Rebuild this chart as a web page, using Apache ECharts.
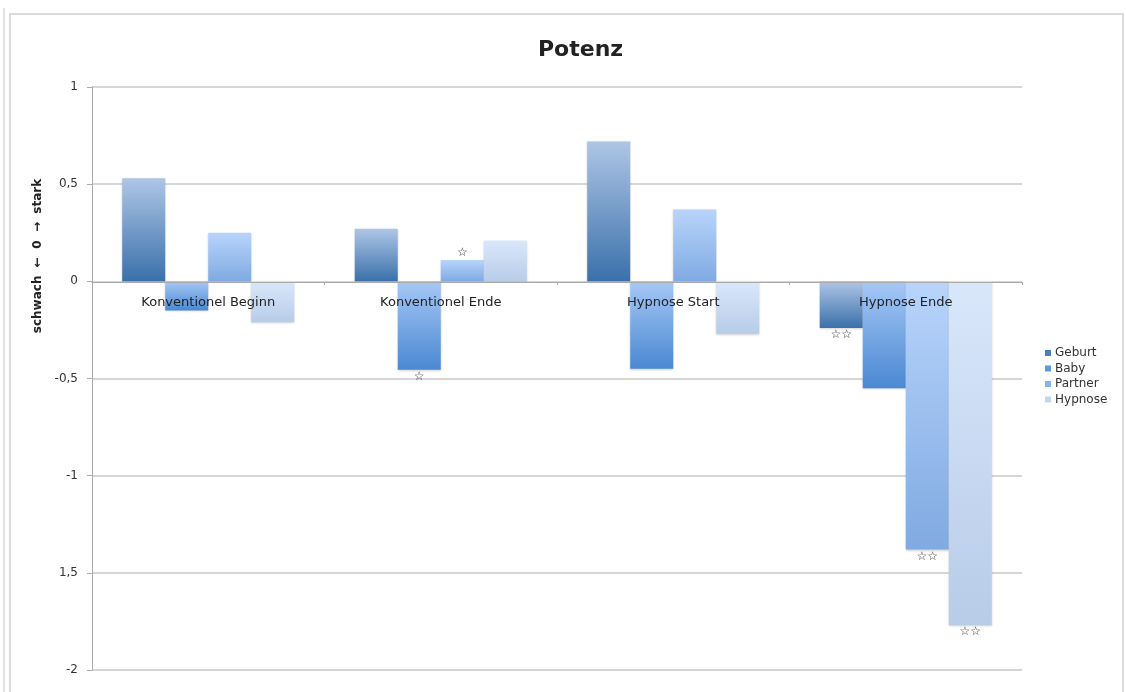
<!DOCTYPE html>
<html>
<head>
<meta charset="utf-8">
<script src="https://cdn.jsdelivr.net/npm/echarts@6/dist/echarts.min.js"></script>
<style>
  html, body { margin: 0; padding: 0; background: #fff; }
  #chart { width: 1126px; height: 692px; }
</style>
</head>
<body>
<div id="chart"></div>
<script>
// Categories, series and tick labels
const categories = ['Konventionel Beginn', 'Konventionel Ende', 'Hypnose Start', 'Hypnose Ende'];
const seriesNames = ['Geburt', 'Baby', 'Partner', 'Hypnose'];
const geburt  = [0.53, 0.27, 0.72, -0.24];
const baby    = [-0.15, -0.455, -0.45, -0.55];
const partner = [0.25, 0.11, 0.37, -1.38];
const hypnose = [-0.21, 0.21, -0.27, -1.77];
// Significance marks per series (empty = none)
const geburtMarks  = ['', '', '', '☆☆'];
const babyMarks    = ['', '☆', '', ''];
const partnerMarks = ['', '☆', '', '☆☆'];
const hypnoseMarks = ['', '', '', '☆☆'];
const yTickLabels = { '1': '1', '0.5': '0,5', '0': '0', '-0.5': '-0,5', '-1': '-1', '-1.5': '1,5', '-2': '-2' };

const values = [geburt, baby, partner, hypnose];
const marks = [geburtMarks, babyMarks, partnerMarks, hypnoseMarks];
const gradients = [
  ['#aec6e6', '#3a70aa'],
  ['#a6c8f6', '#4a88d2'],
  ['#b8d4fb', '#80aae2'],
  ['#d9e7fb', '#b8cce8']
];
const legendColors = ['#4a80bd', '#5c9ae0', '#88b4ea', '#c3d7f2'];

function grad(c) {
  return new echarts.graphic.LinearGradient(0, 0, 0, 1, [
    { offset: 0, color: c[0] }, { offset: 1, color: c[1] }
  ]);
}

const series = seriesNames.map((name, i) => ({
  name: name,
  type: 'bar',
  barGap: '0%',
  barCategoryGap: '26%',
  color: legendColors[i],
  data: values[i].map((v, j) => ({
    value: v,
    itemStyle: { color: grad(gradients[i]), shadowColor: 'rgba(0,0,0,0.18)', shadowBlur: 2, shadowOffsetY: 1 },
    label: {
      show: marks[i][j] !== '',
      formatter: marks[i][j],
      position: v >= 0 ? 'top' : 'bottom',
      distance: 1,
      color: '#333',
      fontSize: 12,
      fontFamily: 'DejaVu Sans'
    }
  }))
}));

const chart = echarts.init(document.getElementById('chart'));
chart.setOption({
  backgroundColor: '#fff',
  animation: false,
  title: {
    text: 'Potenz',
    left: 533,
    top: 34,
    textStyle: { fontFamily: 'DejaVu Sans', fontWeight: 'bold', fontSize: 22, color: '#222' }
  },
  legend: {
    orient: 'vertical',
    left: 1040,
    top: 342,
    itemWidth: 6,
    itemHeight: 6,
    itemGap: 3.5,
    icon: 'rect',
    textStyle: { fontFamily: 'DejaVu Sans', fontSize: 12, color: '#333', padding: [0, 0, 0, -1] },
    data: seriesNames
  },
  grid: { left: 92, right: 104, top: 87, bottom: 22 },
  xAxis: {
    type: 'category',
    data: categories,
    z: 10,
    position: 'bottom',
    offset: -388,
    axisLine: { onZero: false, lineStyle: { color: '#aaa', width: 1 } },
    axisTick: { show: true, length: 3, lineStyle: { color: '#aaa' } },
    axisLabel: { color: '#222', fontFamily: 'DejaVu Sans', fontSize: 13, margin: 14 }
  },
  yAxis: {
    type: 'value',
    min: -2,
    max: 1,
    interval: 0.5,
    axisLine: { show: true, lineStyle: { color: '#aaa' } },
    axisTick: { show: true, length: 5, lineStyle: { color: '#aaa' } },
    splitLine: { lineStyle: { color: '#c8c8c8', width: 1.5 } },
    axisLabel: {
      color: '#333',
      fontFamily: 'DejaVu Sans',
      fontSize: 12,
      margin: 14,
      formatter: v => yTickLabels[String(v)] ?? String(v)
    }
  },
  graphic: [
    { type: 'rect', shape: { x: 10, y: 14, width: 1113, height: 700 }, style: { fill: 'none', stroke: '#dcdcdc', lineWidth: 2 }, silent: true },
    { type: 'line', shape: { x1: 4, y1: 8, x2: 4, y2: 692 }, style: { stroke: '#e4e4e4', lineWidth: 2 }, silent: true },
    {
      type: 'text',
      x: 38, y: 256,
      rotation: Math.PI / 2,
      style: {
        text: 'schwach  ←  0  →  stark',
        fontFamily: 'DejaVu Sans',
        fontWeight: 'bold',
        fontSize: 12,
        fill: '#222',
        align: 'center',
        verticalAlign: 'middle'
      }
    }
  ],
  series: series
});
</script>
</body>
</html>
